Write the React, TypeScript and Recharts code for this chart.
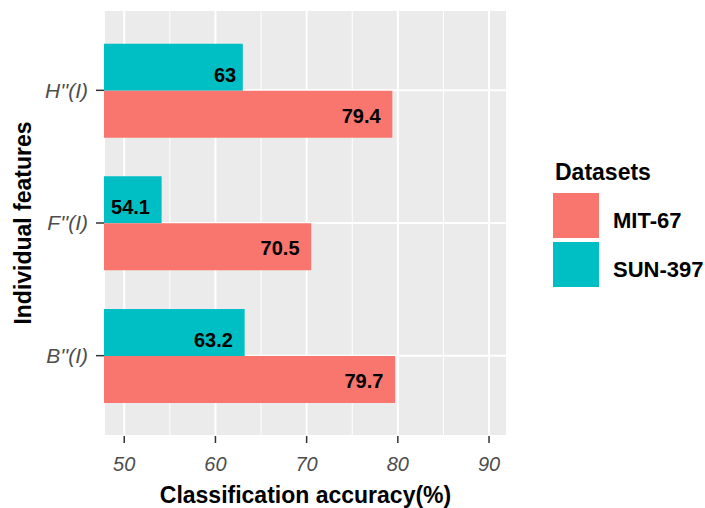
import { BarChart, Bar, XAxis, YAxis, CartesianGrid, ReferenceLine, LabelList } from "recharts"

const categories = ["H''(I)", "F''(I)", "B''(I)"]
const mit67 = [79.4, 70.5, 79.7]
const sun397 = [63, 54.1, 63.2]
const xTicks = [50, 60, 70, 80, 90]
const xMinorTicks = [55, 65, 75, 85]
const xDomain: [number, number] = [47.78, 91.97]

const series = [
    { key: "mit", name: "MIT-67", color: "#F8766D" },
    { key: "sun", name: "SUN-397", color: "#00BFC4" },
]

const FONT = "'Liberation Sans', Arial, sans-serif"

// ggplot hjust ~1.3: push the label in by 30% of its own width
const valueLabel = (dy: number) => (props: any) => {
    const { x, y, width, height, value } = props
    const s = String(value)
    const w = [...s].reduce((a, c) => a + (c === "." ? 0.278 : 0.556), 0) * 20
    return (
        <text
            x={x + width - 0.3 * w}
            y={y + height / 2 + dy}
            textAnchor="end"
            fontSize={20}
            fontWeight="bold"
            fontFamily={FONT}
            fill="#000"
        >
            {s}
        </text>
    )
}

export default function App() {
    const data = categories.map((name, i) => ({ name, mit: mit67[i], sun: sun397[i] }))

    return (
        <div style={{ position: "relative", width: 705, height: 508, fontFamily: FONT, background: "#fff" }}>
            <style>{`body{margin:0}`}</style>
            <BarChart
                width={705}
                height={508}
                data={data}
                layout="vertical"
                margin={{ top: 10, right: 198, bottom: 0, left: 0 }}
                barCategoryGap="14.8%"
                barGap={0}
            >
                <CartesianGrid fill="#EBEBEB" stroke="#FFFFFF" strokeWidth={2} />
                {xMinorTicks.map((v) => (
                    <ReferenceLine key={v} x={v} stroke="#FFFFFF" strokeWidth={1} zIndex={-60} />
                ))}
                <XAxis
                    type="number"
                    domain={xDomain}
                    ticks={xTicks}
                    allowDataOverflow
                    axisLine={false}
                    tickSize={7}
                    tickMargin={14}
                    height={72}
                    tick={{ fill: "#4D4D4D", fontSize: 20, fontStyle: "italic", fontFamily: FONT }}
                    tickLine={{ stroke: "#333333", strokeWidth: 1.5 }}
                    label={{
                        value: "Classification accuracy(%)",
                        position: "insideBottom",
                        offset: 5,
                        fill: "#000",
                        fontSize: 23,
                        fontWeight: "bold",
                        fontFamily: FONT,
                    }}
                />
                <YAxis
                    type="category"
                    dataKey="name"
                    width={104}
                    padding={{ top: 14, bottom: 14 }}
                    axisLine={false}
                    tickSize={8}
                    tickMargin={8}
                    tick={{ fill: "#4D4D4D", fontSize: 21, fontStyle: "italic", fontFamily: FONT }}
                    tickLine={{ stroke: "#333333", strokeWidth: 1.5 }}
                    label={{
                        content: (p: any) => {
                            const vb = p.viewBox
                            const cy = vb.y + vb.height / 2
                            return (
                                <text
                                    x={31}
                                    y={cy}
                                    transform={`rotate(-90, 31, ${cy})`}
                                    textAnchor="middle"
                                    fontSize={23}
                                    fontWeight="bold"
                                    fontFamily={FONT}
                                    fill="#000"
                                >
                                    Individual features
                                </text>
                            )
                        },
                    }}
                />
                <Bar dataKey="sun" fill="#00BFC4" isAnimationActive={false}>
                    <LabelList dataKey="sun" content={valueLabel(14.5)} />
                </Bar>
                <Bar dataKey="mit" fill="#F8766D" isAnimationActive={false}>
                    <LabelList dataKey="mit" content={valueLabel(8.5)} />
                </Bar>
            </BarChart>

            <div style={{ position: "absolute", left: 553, top: 159, width: 152 }}>
                <div style={{ fontSize: 23, lineHeight: "26px", fontWeight: "bold", color: "#000", marginLeft: 2 }}>
                    Datasets
                </div>
                <div style={{ marginTop: 8 }}>
                    {series.map((s) => (
                        <div key={s.key} style={{ display: "flex", alignItems: "center", height: 45, marginBottom: 4 }}>
                            <div style={{ width: 46, height: 45, background: s.color, flexShrink: 0 }} />
                            <div
                                style={{
                                    marginLeft: 14,
                                    fontSize: 22,
                                    fontWeight: "bold",
                                    color: "#000",
                                    position: "relative",
                                    top: 5,
                                    whiteSpace: "nowrap",
                                }}
                            >
                                {s.name}
                            </div>
                        </div>
                    ))}
                </div>
            </div>
        </div>
    )
}
